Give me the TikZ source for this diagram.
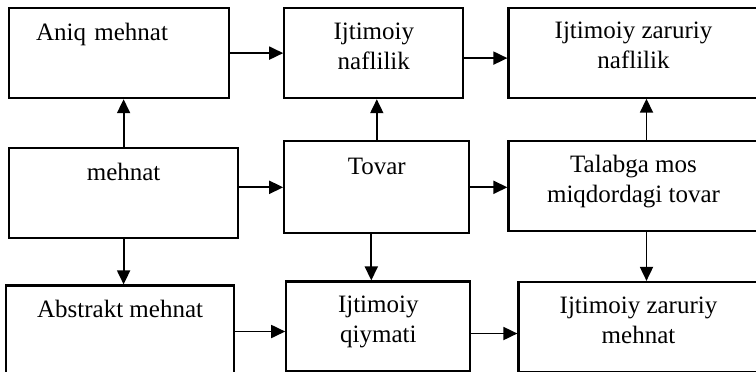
\documentclass[tikz,border=0pt]{standalone}
\usepackage{fontspec}
\setmainfont{Liberation Serif}
\usetikzlibrary{arrows.meta,positioning}

\begin{document}
\begin{tikzpicture}[->,>={Triangle[length=7pt,width=6.5pt]},line width=0.9pt,
                    blok/.style={rectangle, draw=black, line width=1.1pt, align=center, minimum height=45pt,
                                 inner sep=2pt, text depth=7pt,
                                 font=\fontsize{12.5}{15}\selectfont},
                    bitta/.style={text height=9pt, text depth=22pt}]
  \useasboundingbox (0,0) rectangle (378pt,-185.5pt);

  \node[blok, bitta, minimum width=110pt, text width=83pt, align=left, inner xsep=13.5pt, anchor=north west] (aniq) at (4pt,-3.5pt) {Aniq mehnat};
  \node[blok, minimum width=89.5pt] (nafl) [right=26.5pt of aniq] {Ijtimoiy\\naflilik};
  \node[blok, minimum width=125pt] (znafl) [right=21.5pt of nafl, yshift=0.25pt] {Ijtimoiy zaruriy\\naflilik};

  \node[blok, bitta, minimum width=114.5pt] (mehnat) [below=24pt of aniq.south west, anchor=north west] {mehnat};
  \node[blok, bitta, minimum width=92.5pt, minimum height=46pt] (tovar) [right=22pt of mehnat, yshift=3pt] {Tovar};
  \node[blok, minimum width=125pt] (talab) [right=18.5pt of tovar, yshift=0.75pt] {Talabga mos\\miqdordagi tovar};

  \node[blok, bitta, minimum width=114pt] (abstr) [below=22.5pt of mehnat.south west, anchor=north west, xshift=-1.5pt] {Abstrakt mehnat};
  \node[blok, minimum width=92pt] (qiym) [right=25pt of abstr, yshift=2pt] {Ijtimoiy\\qiymati};
  \node[blok, minimum width=120pt] (zmehn) [right=23pt of qiym, yshift=-0.25pt] {Ijtimoiy zaruriy\\mehnat};

  \path (aniq) edge (nafl)
        ([yshift=-2.5pt]nafl.east) edge ([yshift=-2.5pt]nafl.east -| znafl.west)
        (mehnat) edge (mehnat |- aniq.south)
                 edge (mehnat |- abstr.north)
        (mehnat.east |- tovar.west) edge (tovar)
        (tovar) edge (tovar |- nafl.south)
                edge (tovar -| talab.west)
        ([xshift=-2.75pt]tovar.south) edge ([xshift=-2.75pt]tovar.south |- qiym.north)
        ([xshift=6.5pt]talab.north) edge ([xshift=6.5pt]talab.north |- znafl.south)
        ([xshift=6.5pt]talab.south) edge ([xshift=6.5pt]talab.south |- zmehn.north)
        ([yshift=-0.5pt]abstr.east) edge ([yshift=-0.5pt]abstr.east -| qiym.west)
        ([yshift=-3.5pt]qiym.east) edge ([yshift=-3.5pt]qiym.east -| zmehn.west);
\end{tikzpicture}
\end{document}
